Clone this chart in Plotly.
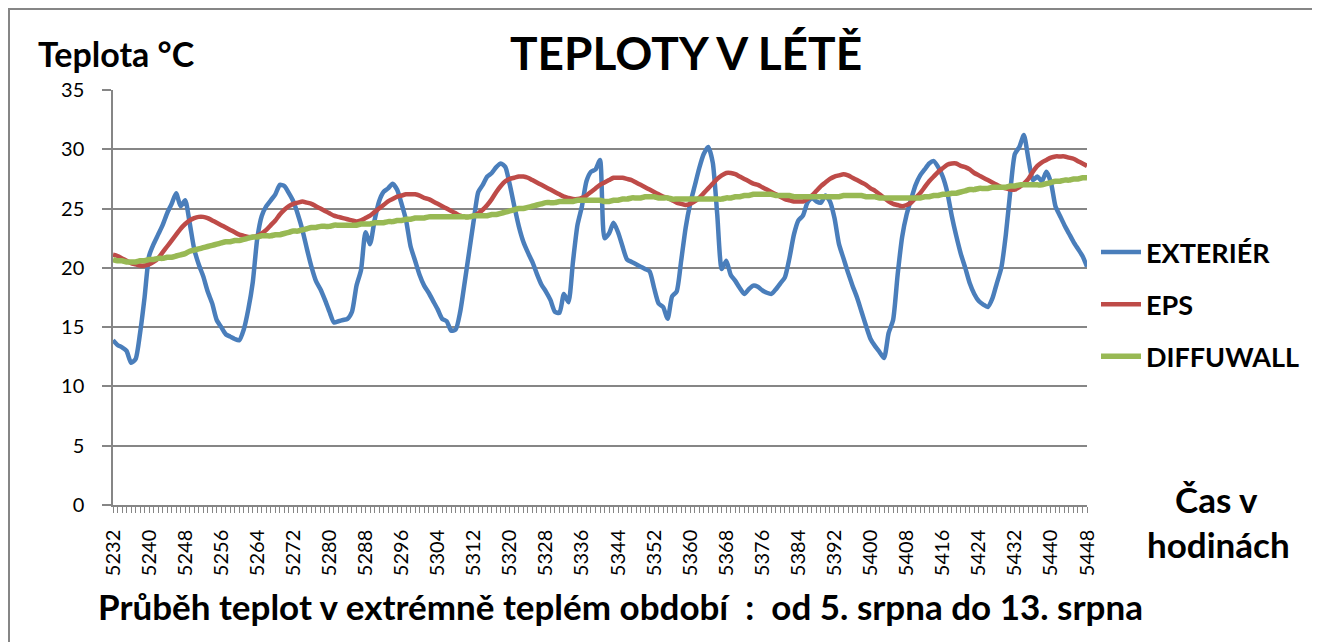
import plotly.graph_objects as go

hours = list(range(5232, 5449))
tick_hours = list(range(5232, 5449, 8))

exterier = [
    13.9, 13.5, 13.3, 13.0, 12.0, 12.3, 14.5, 17.5, 21.0, 22.0,
    22.8, 23.6, 24.6, 25.4, 26.3, 25.2, 25.7, 23.8, 21.6, 20.3,
    19.3, 18.0, 17.0, 15.6, 15.0, 14.4, 14.2, 14.0, 13.9, 14.8,
    16.5, 18.8, 22.5, 24.4, 25.2, 25.7, 26.2, 27.0, 26.9, 26.3,
    25.6, 24.5, 23.2, 21.6, 20.1, 18.9, 18.2, 17.3, 16.3, 15.4,
    15.5, 15.6, 15.7, 16.3, 18.5, 19.8, 23.0, 22.0, 24.0, 25.6,
    26.4, 26.7, 27.1, 26.6, 25.4, 24.0, 21.8, 20.6, 19.4, 18.5,
    17.9, 17.2, 16.5, 15.7, 15.5, 14.7, 14.8, 16.3, 18.8, 21.4,
    24.0, 26.4, 27.0, 27.7, 28.0, 28.5, 28.8, 28.5, 27.0, 25.2,
    23.5, 22.2, 21.3, 20.5, 19.5, 18.6, 18.0, 17.3, 16.3, 16.2,
    17.8, 17.1, 20.5, 23.6, 25.2, 27.3, 28.1, 28.3, 29.1, 22.5,
    22.9, 23.8, 23.0, 21.8, 20.7, 20.5, 20.3, 20.1, 19.9, 19.7,
    18.3, 17.0, 16.7, 15.7, 17.6, 18.0, 20.6, 23.4, 25.4, 26.9,
    28.4, 29.6, 30.2, 28.9, 24.5, 19.9, 20.6, 19.4, 18.9, 18.3,
    17.8, 18.2, 18.5, 18.4, 18.1, 17.9, 17.8, 18.2, 18.7, 19.2,
    20.8, 22.8, 24.0, 24.4, 25.5, 25.9, 25.6, 25.5, 26.1, 25.6,
    24.2, 22.0, 20.8, 19.6, 18.5, 17.5, 16.3, 15.1, 14.0, 13.4,
    12.9, 12.4, 14.5, 15.6, 19.4, 22.6, 24.5, 25.8, 27.0, 27.8,
    28.3, 28.8, 29.0, 28.5, 27.7, 26.4, 24.4, 22.7, 21.2, 20.0,
    18.7, 17.8, 17.2, 16.9, 16.7, 17.4, 18.7, 20.0, 22.8, 26.5,
    29.6, 30.2, 31.2, 29.2, 27.4, 27.7, 27.3, 28.1, 27.2, 25.2,
    24.4, 23.6, 22.9, 22.2, 21.6, 21.0, 20.1,
]

eps = [
    21.1, 21.0, 20.8, 20.6, 20.4, 20.3, 20.2, 20.2, 20.3, 20.5,
    20.8, 21.3, 21.8, 22.3, 22.8, 23.3, 23.7, 24.0, 24.2, 24.3,
    24.3, 24.2, 24.0, 23.8, 23.6, 23.4, 23.2, 23.0, 22.8, 22.7,
    22.6, 22.6, 22.7, 22.9, 23.2, 23.6, 24.0, 24.5, 24.9, 25.2,
    25.4, 25.5, 25.6, 25.5, 25.4, 25.2, 25.0, 24.8, 24.6, 24.4,
    24.3, 24.2, 24.1, 24.0, 23.9, 24.0, 24.2, 24.4, 24.7, 25.0,
    25.3, 25.6, 25.8, 26.0, 26.1, 26.2, 26.2, 26.2, 26.1, 25.9,
    25.8, 25.6, 25.4, 25.2, 25.0, 24.8, 24.6, 24.4, 24.3, 24.3,
    24.4, 24.6, 24.9, 25.3, 25.8, 26.4, 26.9, 27.3, 27.5, 27.6,
    27.7, 27.7, 27.6, 27.4, 27.2, 27.0, 26.8, 26.6, 26.4, 26.2,
    26.0, 25.9, 25.8, 25.8, 25.9, 26.1, 26.4, 26.7, 27.0, 27.2,
    27.4, 27.6, 27.6, 27.6, 27.5, 27.4, 27.2, 27.0, 26.8, 26.6,
    26.4, 26.2, 26.0, 25.9, 25.7, 25.5, 25.4, 25.3, 25.4, 25.6,
    25.9, 26.3, 26.7, 27.1, 27.5, 27.8, 28.0, 28.0, 27.9, 27.7,
    27.5, 27.3, 27.1, 27.0, 26.8, 26.6, 26.4, 26.2, 26.0, 25.8,
    25.7, 25.6, 25.6, 25.6, 25.8, 26.1, 26.5, 26.9, 27.2, 27.5,
    27.7, 27.8, 27.9, 27.8, 27.6, 27.4, 27.2, 27.0, 26.7, 26.5,
    26.2, 25.9, 25.6, 25.4, 25.3, 25.2, 25.3, 25.5, 25.9, 26.3,
    26.8, 27.3, 27.7, 28.1, 28.4, 28.7, 28.8, 28.8, 28.6, 28.5,
    28.3, 28.0, 27.8, 27.6, 27.4, 27.2, 27.0, 26.8, 26.7, 26.6,
    26.6, 26.8, 27.1, 27.5, 28.1, 28.6, 28.9, 29.1, 29.3, 29.4,
    29.4, 29.4, 29.3, 29.2, 29.0, 28.8, 28.6,
]

diffuwall = [
    20.7, 20.6, 20.6, 20.5, 20.5, 20.5, 20.6, 20.6, 20.7, 20.7,
    20.8, 20.8, 20.9, 20.9, 21.0, 21.1, 21.2, 21.4, 21.5, 21.6,
    21.7, 21.8, 21.9, 22.0, 22.1, 22.2, 22.2, 22.3, 22.3, 22.4,
    22.5, 22.6, 22.6, 22.7, 22.7, 22.7, 22.8, 22.8, 22.9, 23.0,
    23.1, 23.1, 23.2, 23.3, 23.4, 23.4, 23.5, 23.5, 23.5, 23.6,
    23.6, 23.6, 23.6, 23.6, 23.6, 23.7, 23.7, 23.7, 23.8, 23.8,
    23.8, 23.9, 23.9, 24.0, 24.0, 24.1, 24.1, 24.2, 24.2, 24.2,
    24.3, 24.3, 24.3, 24.3, 24.3, 24.3, 24.3, 24.3, 24.3, 24.3,
    24.4, 24.4, 24.4, 24.4, 24.5, 24.5, 24.6, 24.7, 24.8, 24.9,
    25.0, 25.0, 25.1, 25.2, 25.3, 25.4, 25.5, 25.5, 25.5, 25.6,
    25.6, 25.6, 25.6, 25.7, 25.7, 25.7, 25.7, 25.7, 25.7, 25.6,
    25.6, 25.7, 25.7, 25.8, 25.8, 25.9, 25.9, 25.9, 26.0, 26.0,
    26.0, 25.9, 25.9, 25.9, 25.8, 25.8, 25.8, 25.8, 25.8, 25.8,
    25.8, 25.8, 25.8, 25.8, 25.8, 25.8, 25.9, 25.9, 26.0, 26.0,
    26.1, 26.1, 26.2, 26.2, 26.2, 26.2, 26.2, 26.1, 26.1, 26.1,
    26.1, 26.0, 26.0, 26.0, 26.0, 26.0, 26.0, 26.0, 26.0, 26.0,
    26.0, 26.0, 26.1, 26.1, 26.1, 26.1, 26.1, 26.0, 26.0, 26.0,
    25.9, 25.9, 25.9, 25.9, 25.9, 25.9, 25.9, 25.9, 25.9, 25.9,
    26.0, 26.0, 26.1, 26.1, 26.2, 26.2, 26.3, 26.3, 26.4, 26.5,
    26.6, 26.6, 26.7, 26.7, 26.7, 26.8, 26.8, 26.8, 26.8, 26.9,
    26.9, 27.0, 27.0, 27.0, 27.0, 27.0, 27.0, 27.1, 27.2, 27.3,
    27.3, 27.4, 27.4, 27.5, 27.5, 27.6, 27.6,
]

series_names = ["EXTERIÉR", "EPS", "DIFFUWALL"]
series_colors = ["#4A7EBB", "#BE4B48", "#98B954"]
series_widths = [4.5, 4.5, 5.5]

FONT = "Lato, 'Open Sans', sans-serif"

# The page body has an 8 px margin, so the figure is drawn 8 px smaller
# and every screen position below is expressed relative to the plot area.
PL, PT, PW, PH = 113, 90, 974, 415  # plot area in screen pixels


def px(x):
    return (x - PL) / PW


def py(y):
    return (PT + PH - y) / PH


fig = go.Figure()
for name, vals, col, w in zip(series_names, [exterier, eps, diffuwall], series_colors, series_widths):
    fig.add_trace(go.Scatter(
        x=hours, y=vals, name=name, mode="lines",
        line=dict(color=col, width=w, shape="spline", smoothing=0.6),
        legendgroup=name,
    ))

fig.update_layout(
    width=1312, height=634,
    margin=dict(l=PL - 8, r=1320 - (PL + PW), t=PT - 8, b=642 - (PT + PH)),
    paper_bgcolor="white", plot_bgcolor="white",
    font=dict(family=FONT, color="black"),
    showlegend=True,
    legend=dict(
        x=px(1096), xanchor="left", y=py(228), yanchor="top",
        font=dict(size=27, family=FONT, color="black", weight="bold"),
        tracegroupgap=14, itemwidth=40,
        bgcolor="rgba(0,0,0,0)",
    ),
    xaxis=dict(
        range=[5232, 5448],
        tickmode="array", tickvals=tick_hours,
        ticktext=[str(t) for t in tick_hours],
        tickangle=-90,
        tickfont=dict(size=20, family=FONT, color="black"),
        ticks="outside", ticklen=6, tickcolor="#868686", tickwidth=1,
        ticklabelstandoff=9,
        minor=dict(dtick=1, tick0=5232, ticks="outside", ticklen=6, tickcolor="#868686", tickwidth=1, showgrid=False),
        showline=True, linecolor="#868686", linewidth=1.5,
        showgrid=False, zeroline=False,
    ),
    yaxis=dict(
        range=[0, 35], tickmode="linear", tick0=0, dtick=5,
        tickfont=dict(size=20, family=FONT, color="black"),
        ticks="outside", ticklen=9, tickcolor="#868686", tickwidth=1.5,
        ticklabelstandoff=14,
        showline=True, linecolor="#868686", linewidth=1.5,
        showgrid=True, gridcolor="#868686", gridwidth=1.5,
        zeroline=False,
    ),
)

# outer frame (its bottom edge lies below the visible area)
fig.add_shape(type="rect", xref="paper", yref="paper",
              x0=px(9), x1=px(1316), y0=py(660), y1=py(9),
              line=dict(color="#868686", width=2), layer="below")

fig.add_annotation(text="<b>TEPLOTY V LÉTĚ</b>", xref="paper", yref="paper",
                   x=px(686), y=py(52), showarrow=False,
                   xanchor="center", yanchor="middle",
                   font=dict(size=46, family=FONT, color="black"))
fig.add_annotation(text="<b>Teplota °C</b>", xref="paper", yref="paper",
                   x=px(36), y=py(54), showarrow=False,
                   xanchor="left", yanchor="middle",
                   font=dict(size=34, family=FONT, color="black"))
fig.add_annotation(text="<b>Průběh teplot v extrémně teplém období  :  od 5. srpna do 13. srpna</b>",
                   xref="paper", yref="paper",
                   x=px(620), y=py(606), showarrow=False,
                   xanchor="center", yanchor="middle",
                   font=dict(size=35, family=FONT, color="black"))
fig.add_annotation(text="<b>Čas v</b>", xref="paper", yref="paper",
                   x=px(1216), y=py(499), showarrow=False,
                   xanchor="center", yanchor="middle",
                   font=dict(size=35, family=FONT, color="black"))
fig.add_annotation(text="<b>hodinách</b>", xref="paper", yref="paper",
                   x=px(1218), y=py(544), showarrow=False,
                   xanchor="center", yanchor="middle",
                   font=dict(size=35, family=FONT, color="black"))

fig.write_html("out.html")
